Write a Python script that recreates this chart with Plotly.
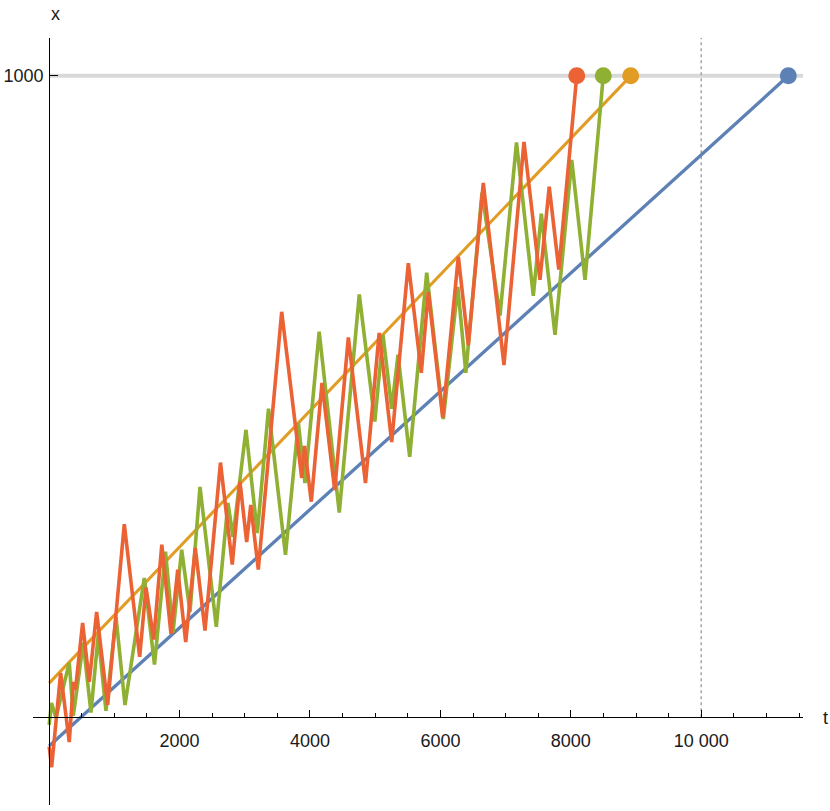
import plotly.graph_objects as go

# ---------------- data ----------------
blue_t = [0, 11336]
blue_x = [-45, 1000]

orange_t = [0, 8919]
orange_x = [53, 1000]

green_t = [0, 35, 104, 308, 370, 523, 641, 752, 871, 1025, 1163, 1459, 1615, 1784,
           1899, 2032, 2160, 2313, 2563, 2742, 2819, 3018, 3192, 3364, 3624, 3821,
           3923, 4141, 4449, 4756, 4994, 5120, 5253, 5350, 5529, 5790, 6045, 6267,
           6390, 6638, 6914, 7167, 7425, 7548, 7758, 8014, 8218, 8498]
green_x = [-12, 22, -1, 85, 2, 116, 7, 128, 10, 156, 19, 217, 82, 258,
           132, 261, 164, 359, 141, 334, 281, 448, 287, 481, 253, 459,
           365, 601, 319, 659, 461, 596, 481, 565, 406, 693, 465, 671,
           537, 818, 626, 896, 657, 785, 596, 869, 682, 1000]

red_t = [0, 38, 176, 308, 372, 403, 513, 615, 728, 897, 1152, 1388, 1485, 1603,
         1727, 1868, 1972, 2094, 2241, 2390, 2627, 2808, 2926, 3029, 3092, 3207,
         3566, 3873, 3916, 4020, 4184, 4379, 4588, 4851, 5061, 5253, 5508, 5707,
         5814, 6035, 6275, 6428, 6658, 6975, 7282, 7527, 7669, 7816, 8091]
red_x = [-46, -78, 69, -39, 55, 43, 147, 55, 164, 19, 301, 94, 202, 121,
         269, 130, 230, 117, 264, 135, 397, 238, 367, 273, 331, 230,
         632, 373, 423, 336, 521, 354, 592, 365, 599, 429, 708, 537,
         663, 467, 718, 580, 833, 549, 897, 682, 827, 698, 1000]

x_tick_vals = [2000, 4000, 6000, 8000, 10000]
x_tick_text = ["2000", "4000", "6000", "8000", "10 000"]
y_tick_vals = [1000]
y_tick_text = ["1000"]
grid_level = 1000
mark_t = 10000

T_MIN, T_MAX = -248, 11561
X_MIN, X_MAX = -137, 1059

C_BLUE = "#5E81B5"
C_ORANGE = "#E19C24"
C_GREEN = "#8FB032"
C_RED = "#EB6235"

FONT = "Liberation Sans, Arial, sans-serif"
TXT = "#1a1a1a"

fig = go.Figure()

series = [
    (blue_t, blue_x, C_BLUE, 3.3),
    (orange_t, orange_x, C_ORANGE, 3.0),
    (green_t, green_x, C_GREEN, 3.6),
    (red_t, red_x, C_RED, 3.6),
]
for tt, xx, col, w in series:
    fig.add_trace(go.Scatter(x=tt, y=xx, mode="lines",
                             line=dict(color=col, width=w),
                             hoverinfo="skip", showlegend=False))
for tt, xx, col, w in series:
    fig.add_trace(go.Scatter(x=[tt[-1]], y=[xx[-1]], mode="markers",
                             marker=dict(color=col, size=17),
                             hoverinfo="skip", showlegend=False))

fig.add_shape(type="line", xref="x", yref="y", x0=0, x1=T_MAX,
              y0=grid_level, y1=grid_level,
              line=dict(color="#D9D9D9", width=4), layer="below")
fig.add_shape(type="line", xref="x", yref="y", x0=mark_t, x1=mark_t,
              y0=0, y1=X_MAX,
              line=dict(color="#A6A6A6", width=1.5, dash="dot"), layer="below")

xpos = (0 - X_MIN) / (X_MAX - X_MIN)
ypos = (0 - T_MIN) / (T_MAX - T_MIN)

fig.update_layout(
    width=830, height=811,
    margin=dict(l=33, r=27, t=38, b=6, autoexpand=False),
    paper_bgcolor="white", plot_bgcolor="white",
    font=dict(family=FONT, size=18, color=TXT),
    xaxis=dict(range=[T_MIN, T_MAX], anchor="free", position=xpos,
               automargin=False,
               showline=True, linecolor="black", linewidth=1,
               ticks="inside", ticklen=7, tickcolor="black", tickwidth=1,
               tickmode="array", tickvals=x_tick_vals, ticktext=x_tick_text,
               minor=dict(tickmode="linear", tick0=0, dtick=500, ticks="inside",
                          ticklen=4, tickcolor="black", showgrid=False),
               showgrid=False, zeroline=False, ticklabelstandoff=7,
               tickfont=dict(size=18, family=FONT, color=TXT)),
    yaxis=dict(range=[X_MIN, X_MAX], anchor="free", position=ypos,
               automargin=False,
               showline=True, linecolor="black", linewidth=1,
               ticks="inside", ticklen=8, tickcolor="black", tickwidth=1,
               tickmode="array", tickvals=y_tick_vals, ticktext=y_tick_text,
               showgrid=False, zeroline=False, ticklabelstandoff=2,
               tickfont=dict(size=18, family=FONT, color=TXT)),
    annotations=[
        dict(text="x", xref="paper", yref="paper", x=ypos, y=1.047,
             showarrow=False, font=dict(size=18, family=FONT, color=TXT)),
        dict(text="t", xref="paper", yref="paper", x=1.035, y=xpos - 0.017,
             showarrow=False, font=dict(size=18, family=FONT, color=TXT)),
    ],
)

fig.write_html("out.html", config={"displayModeBar": False},
               post_script="document.body.style.margin='0';document.body.style.overflow='hidden';")
